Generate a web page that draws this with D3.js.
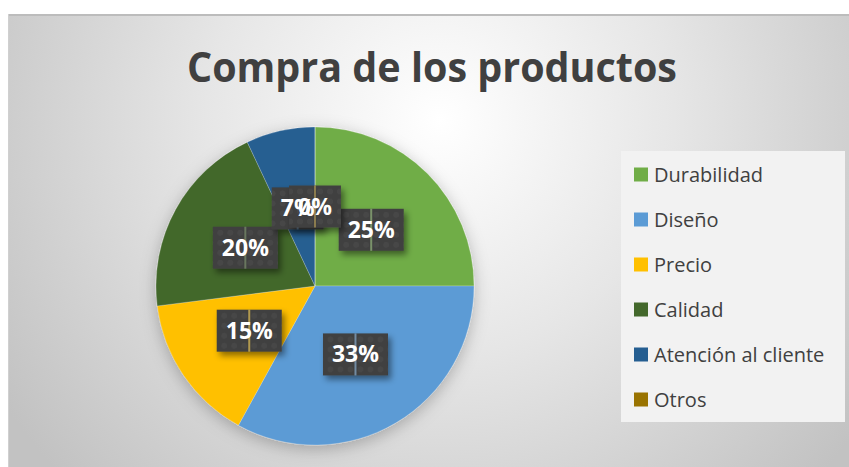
<html>
  <head>
    <meta charset="utf-8">
    <script src="https://d3js.org/d3.v7.min.js"></script>
    <style>
      body { margin: 0; background: #ffffff; }
      text { font-family: "Open Sans", "DejaVu Sans", sans-serif; }
    </style>
  </head>
  <body>
    <div id="vis"></div>
    <script>
      // Data
      var title = "Compra de los productos";
      var categories = ["Durabilidad", "Diseño", "Precio", "Calidad", "Atención al cliente", "Otros"];
      var values = [25, 33, 15, 20, 7, 0];
      var colors = ["#70ad47", "#5b9bd5", "#ffc000", "#43682b", "#255e91", "#997300"];

      // Page / chart area
      var width = 849;
      var height = 467;
      var area = { left: 8, top: 14, right: 849, bottom: 467 };
      var center = { x: 315, y: 286 };
      var radius = 159;

      var svg = d3
        .select("#vis")
        .append("svg")
        .attr("width", width)
        .attr("height", height);

      var defs = svg.append("defs");

      // background gradient
      var bg = defs
        .append("radialGradient")
        .attr("id", "bg")
        .attr("gradientUnits", "userSpaceOnUse")
        .attr("cx", 440)
        .attr("cy", 120)
        .attr("r", 520);
      bg.append("stop").attr("offset", "0%").attr("stop-color", "#ffffff");
      bg.append("stop").attr("offset", "45%").attr("stop-color", "#e6e6e6");
      bg.append("stop").attr("offset", "100%").attr("stop-color", "#c2c2c2");

      // shadow for pie
      var pieShadow = defs
        .append("filter")
        .attr("id", "pieShadow")
        .attr("x", "-30%")
        .attr("y", "-30%")
        .attr("width", "160%")
        .attr("height", "160%");
      pieShadow
        .append("feDropShadow")
        .attr("dx", 0)
        .attr("dy", 4)
        .attr("stdDeviation", 8)
        .attr("flood-color", "#000000")
        .attr("flood-opacity", 0.25);

      // shadow for label boxes
      var boxShadow = defs
        .append("filter")
        .attr("id", "boxShadow")
        .attr("x", "-30%")
        .attr("y", "-30%")
        .attr("width", "160%")
        .attr("height", "170%");
      boxShadow
        .append("feDropShadow")
        .attr("dx", 3)
        .attr("dy", 4)
        .attr("stdDeviation", 3)
        .attr("flood-color", "#000000")
        .attr("flood-opacity", 0.45);

      // dotted texture for the label boxes
      var pat = defs
        .append("pattern")
        .attr("id", "dots")
        .attr("patternUnits", "userSpaceOnUse")
        .attr("width", 10)
        .attr("height", 10);
      pat.append("rect").attr("width", 10).attr("height", 10).attr("fill", "#3f3f3f");
      pat.append("circle").attr("cx", 5).attr("cy", 5).attr("r", 3).attr("fill", "#474747");

      // chart area
      svg
        .append("rect")
        .attr("x", area.left)
        .attr("y", area.top)
        .attr("width", area.right - area.left)
        .attr("height", area.bottom - area.top)
        .attr("fill", "url(#bg)");
      svg
        .append("line")
        .attr("x1", area.left)
        .attr("x2", area.right)
        .attr("y1", area.top + 1)
        .attr("y2", area.top + 1)
        .attr("stroke", "#bcbcbc")
        .attr("stroke-width", 2);
      svg
        .append("line")
        .attr("x1", area.left + 0.5)
        .attr("x2", area.left + 0.5)
        .attr("y1", area.top)
        .attr("y2", area.bottom)
        .attr("stroke", "#d0d0d0")
        .attr("stroke-width", 1);

      // title
      svg
        .append("text")
        .attr("x", 432)
        .attr("y", 82)
        .attr("text-anchor", "middle")
        .attr("font-size", 41)
        .attr("font-weight", "bold")
        .attr("fill", "#404040")
        .attr("textLength", 490)
        .attr("lengthAdjust", "spacingAndGlyphs")
        .text(title);

      // pie
      var data = categories.map(function (c, i) {
        return { name: c, value: values[i], color: colors[i] };
      });
      var pie = d3.pie().sort(null).value(function (d) { return d.value; });
      var arcs = pie(data);
      var arc = d3.arc().innerRadius(0).outerRadius(radius);

      var g = svg
        .append("g")
        .attr("transform", "translate(" + center.x + "," + center.y + ")");

      g.append("g")
        .attr("filter", "url(#pieShadow)")
        .selectAll("path")
        .data(arcs)
        .enter()
        .append("path")
        .attr("d", arc)
        .attr("fill", function (d) { return d.data.color; })
        .attr("stroke", "#ffffff")
        .attr("stroke-opacity", 0.35)
        .attr("stroke-width", 0.6);

      // labels: boxes in one layer, texts on top of all boxes
      var fmt = function (v) { return d3.format(".0%")(v / d3.sum(values)); };
      var fontSize = 23;
      var boxLayer = g.append("g");
      var textLayer = g.append("g");

      arcs.forEach(function (d) {
        var c = arc.centroid(d);
        var t = textLayer
          .append("text")
          .attr("x", c[0])
          .attr("y", c[1] + 8)
          .attr("text-anchor", "middle")
          .attr("font-size", fontSize)
          .attr("font-weight", "bold")
          .attr("fill", "#ffffff")
          .text(fmt(d.data.value));
        var w = t.node().getComputedTextLength() + 18;
        var h = 42;
        var b = boxLayer.append("g").attr("transform", "translate(" + c[0] + "," + c[1] + ")");
        b.append("rect")
          .attr("x", -w / 2)
          .attr("y", -h / 2)
          .attr("width", w)
          .attr("height", h)
          .attr("fill", "url(#dots)")
          .attr("filter", "url(#boxShadow)");
        // faint streak of the slice colour through the box
        b.append("line")
          .attr("x1", 0)
          .attr("x2", 0)
          .attr("y1", -h / 2)
          .attr("y2", h / 2)
          .attr("stroke", d3.interpolateRgb(d.data.color, "#ffffff")(0.35))
          .attr("stroke-opacity", 0.6)
          .attr("stroke-width", 2);
      });

      // legend
      var legend = svg.append("g");
      legend
        .append("rect")
        .attr("x", 621)
        .attr("y", 151)
        .attr("width", 224)
        .attr("height", 271)
        .attr("fill", "#f2f2f2");

      var ly = d3
        .scalePoint()
        .domain(categories)
        .range([174.5, 399.5]);

      var items = legend
        .selectAll(".item")
        .data(data)
        .enter()
        .append("g")
        .attr("class", "item")
        .attr("transform", function (d) { return "translate(634," + ly(d.name) + ")"; });
      items
        .append("rect")
        .attr("x", 0)
        .attr("y", -7)
        .attr("width", 14)
        .attr("height", 14)
        .attr("fill", function (d) { return d.color; });
      items
        .append("text")
        .attr("x", 20)
        .attr("y", 7)
        .attr("font-size", 20)
        .attr("fill", "#404040")
        .text(function (d) { return d.name; });
    </script>
  </body>
</html>
